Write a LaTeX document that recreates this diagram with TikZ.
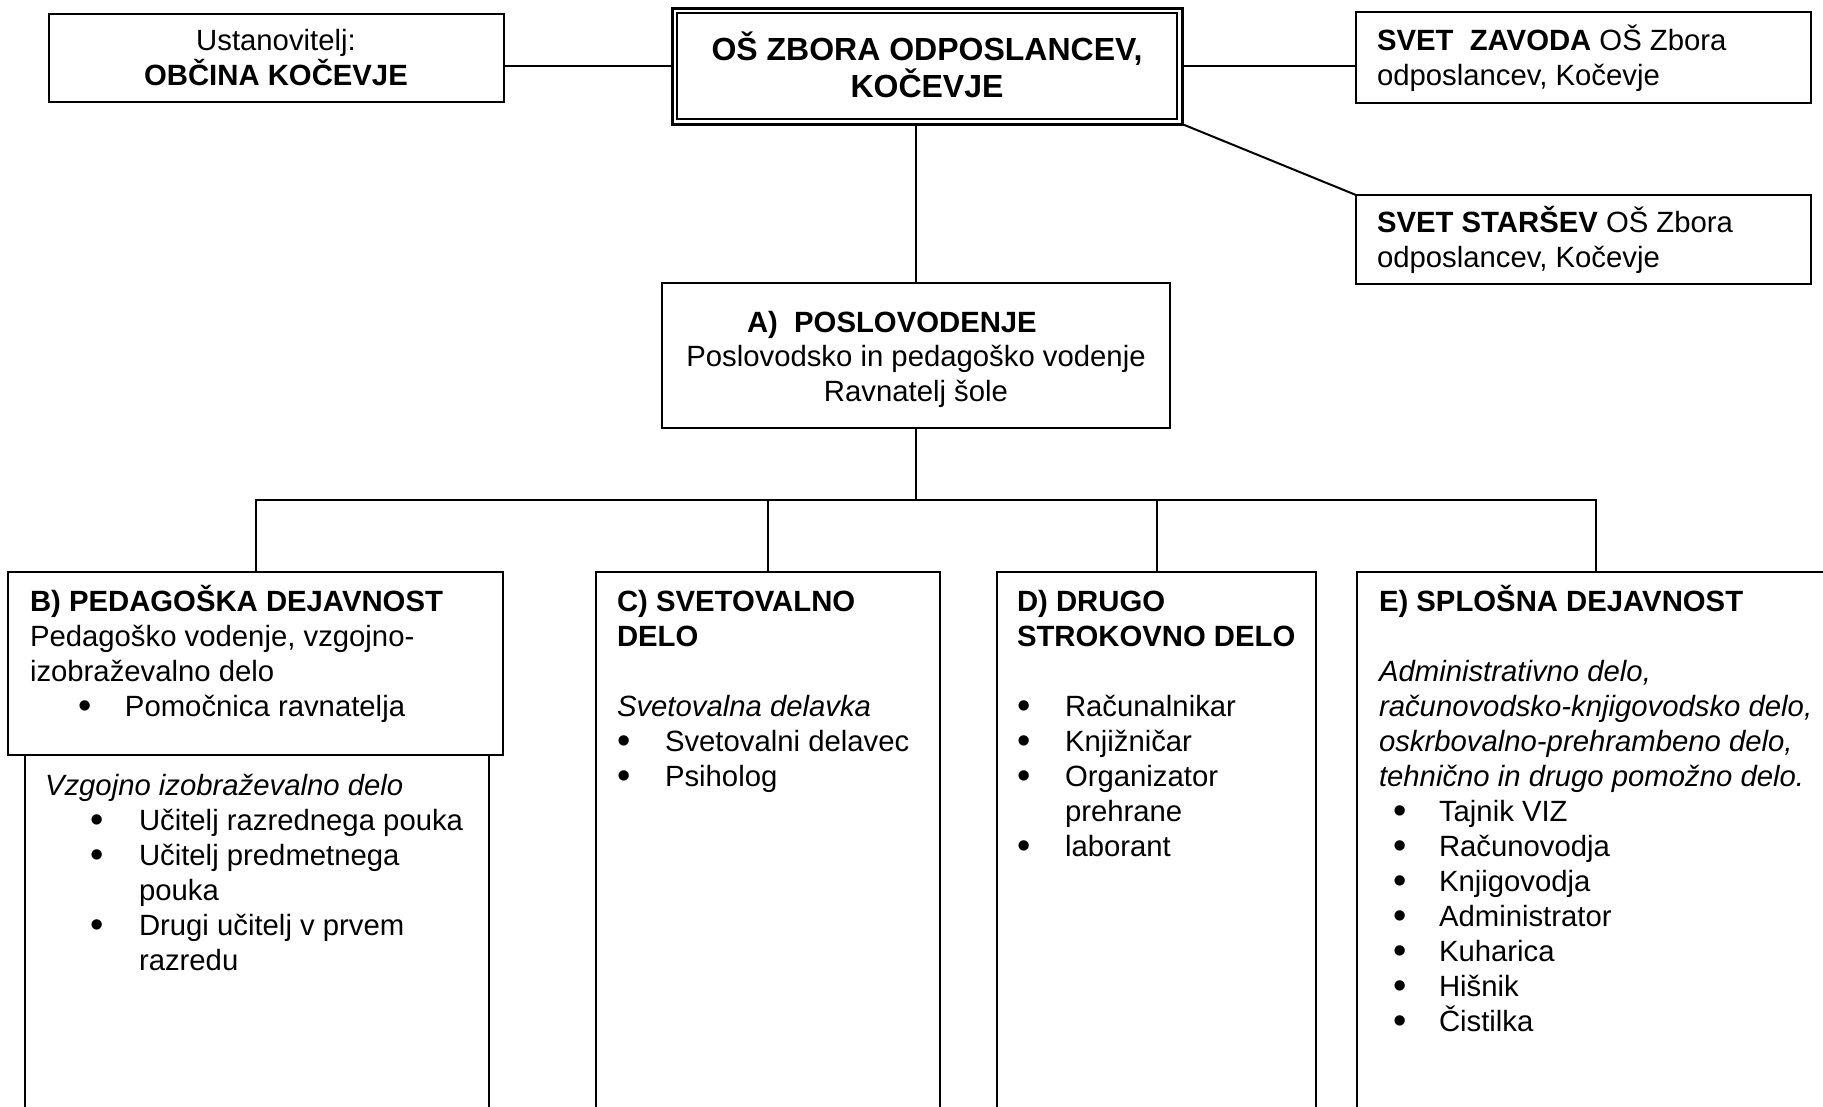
\documentclass[tikz,border=0pt]{standalone}
\usepackage{fontspec}
\setmainfont{Liberation Sans}
\newcommand\fs{\fontsize{29.3pt}{35pt}\selectfont}
\newcommand\bul[3]{\hspace*{#1}\makebox[#2][l]{\raisebox{-2.5pt}{\fontsize{38pt}{35pt}\selectfont •}}#3}
\tikzset{
  boxst/.style={draw, line width=2pt, inner sep=0pt, outer sep=0pt, anchor=north west, fill=white},
  txt/.style={inner sep=0pt, outer sep=0pt, anchor=base west},
  ctr/.style={inner sep=0pt, outer sep=0pt, anchor=base},
  conn/.style={line width=2pt},
}
\begin{document}
\begin{tikzpicture}[x=1pt,y=-1pt]
\useasboundingbox (0,0) rectangle (1823,1106);
\clip (0,0) rectangle (1823,1106);
\fill[white] (0,0) rectangle (1823,1106);

% top row
\node[boxst, minimum width=455pt, minimum height=88pt] (ust) at (49,14) {};
\node[boxst, line width=3pt, minimum width=510pt, minimum height=116pt] (main) at (672,8) {};
\draw[line width=1.4pt] ([shift={(5pt,-5pt)}]main.north west) rectangle ([shift={(-5pt,5pt)}]main.south east);
\node[boxst, minimum width=455pt, minimum height=91pt] (zav) at (1356,12) {};
\node[boxst, minimum width=455pt, minimum height=89pt] (star) at (1356,195) {};
\node[boxst, minimum width=508pt, minimum height=145pt] (A) at (662,283) {};

% bottom row
\node[boxst, minimum width=464pt, minimum height=420pt] (Blow) at (25,755) {};
\node[boxst, minimum width=495pt, minimum height=183pt] (B) at (8,572) {};
\node[boxst, minimum width=344pt, minimum height=600pt] (C) at (596,572) {};
\node[boxst, minimum width=319pt, minimum height=600pt] (D) at (997,572) {};
\node[boxst, minimum width=478pt, minimum height=600pt] (E) at (1357,572) {};

% connectors
\draw[conn] (main.west) -- (main.west -| ust.east);
\draw[conn] (main.east) -- (main.east -| zav.west);
\draw[conn] (main.south east) -- (star.north west);
\draw[conn] (A.north) -- (A.north |- main.south);
\path (A.south) ++(0,72) coordinate (bus);
\draw[conn] (A.south) -- (bus);
\draw[conn] (B.north) |- (bus) -| (E.north);
\draw[conn] (C.north) -- (C.north |- bus);
\draw[conn] (D.north) -- (D.north |- bus);

% texts
\node[ctr] (tU) at (276,50) {\parbox[t]{440pt}{\centering\fs Ustanovitelj:\\ \textbf{OBČINA KOČEVJE}}};
\node[ctr] (tM) at (927,60) {\parbox[t]{500pt}{\centering\fontsize{32pt}{37pt}\selectfont\bfseries OŠ ZBORA ODPOSLANCEV,\\ KOČEVJE}};
\node[txt] (tZ) at (1377,50) {\parbox[t]{430pt}{\raggedright\fs\textbf{SVET~~ZAVODA} OŠ Zbora\\ odposlancev, Kočevje}};
\node[txt] (tS) at (1377,232) {\parbox[t]{430pt}{\raggedright\fs\textbf{SVET STARŠEV} OŠ Zbora\\ odposlancev, Kočevje}};
\node[txt] (tA1) at (747,332) {\fs\textbf{A)~~POSLOVODENJE}};
\node[ctr] (tA2) at (916,366) {\parbox[t]{500pt}{\centering\fs Poslovodsko in pedagoško vodenje\\ Ravnatelj šole}};

\node[txt] (tB) at (30,611) {\parbox[t]{470pt}{\raggedright\fs
\textbf{B) PEDAGOŠKA DEJAVNOST}\\
Pedagoško vodenje, vzgojno-\\
izobraževalno delo\\
\bul{48pt}{47pt}{Pomočnica ravnatelja}}};

\node[txt] (tBl) at (45,795) {\parbox[t]{440pt}{\raggedright\fs
\textit{Vzgojno izobraževalno delo}\\
\bul{45pt}{49pt}{Učitelj razrednega pouka}\\
\bul{45pt}{49pt}{Učitelj predmetnega}\\
\hspace*{94pt}pouka\\
\bul{45pt}{49pt}{Drugi učitelj v prvem}\\
\hspace*{94pt}razredu}};

\node[txt] (tC) at (617,611) {\parbox[t]{320pt}{\raggedright\fs
\textbf{C) SVETOVALNO}\\
\textbf{DELO}\\[35pt]
\textit{Svetovalna delavka}\\
\bul{0pt}{48pt}{Svetovalni delavec}\\
\bul{0pt}{48pt}{Psiholog}}};

\node[txt] (tD) at (1017,611) {\parbox[t]{295pt}{\raggedright\fs
\textbf{D) DRUGO}\\
\textbf{STROKOVNO DELO}\\[35pt]
\bul{0pt}{48pt}{Računalnikar}\\
\bul{0pt}{48pt}{Knjižničar}\\
\bul{0pt}{48pt}{Organizator}\\
\hspace*{48pt}prehrane\\
\bul{0pt}{48pt}{laborant}}};

\node[txt] (tE) at (1379,611) {\parbox[t]{440pt}{\raggedright\fs
\textbf{E) SPLOŠNA DEJAVNOST}\\[35pt]
{\itshape Administrativno delo,}\\
{\itshape računovodsko-knjigovodsko delo,}\\
{\itshape oskrbovalno-prehrambeno delo,}\\
{\itshape tehnično in drugo pomožno delo.}\\
\bul{14pt}{46pt}{Tajnik VIZ}\\
\bul{14pt}{46pt}{Računovodja}\\
\bul{14pt}{46pt}{Knjigovodja}\\
\bul{14pt}{46pt}{Administrator}\\
\bul{14pt}{46pt}{Kuharica}\\
\bul{14pt}{46pt}{Hišnik}\\
\bul{14pt}{46pt}{Čistilka}}};
\end{tikzpicture}
\end{document}
